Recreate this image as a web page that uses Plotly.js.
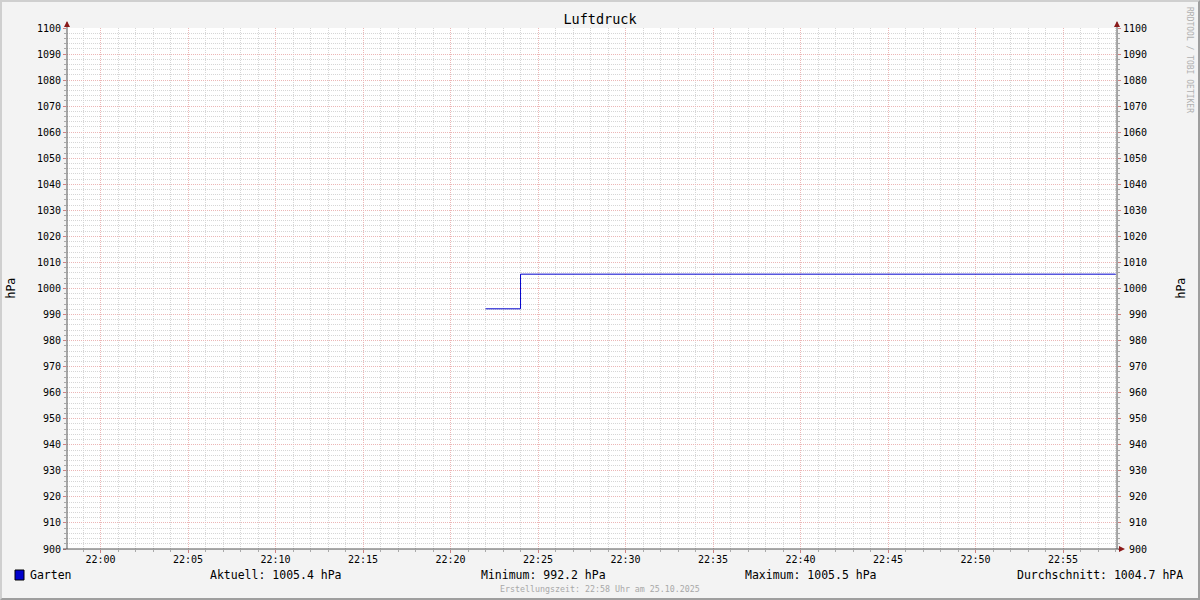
<!DOCTYPE html>
<html><head><meta charset="utf-8">
<script src="https://cdn.plot.ly/plotly-3.0.1.min.js"></script>
<style>
html,body{margin:0;padding:0;background:#f3f3f3;}
#wrap{position:relative;width:1200px;height:600px;}
#chart{width:1200px;height:600px;}
#frame{position:absolute;left:0;top:0;width:1200px;height:600px;box-sizing:border-box;
border-top:2px solid #cfcfcf;border-left:2px solid #cfcfcf;border-right:2px solid #9e9e9e;border-bottom:2px solid #9e9e9e;pointer-events:none;}
</style></head>
<body><div id="wrap"><div id="chart"></div><div id="frame"></div></div>
<script>
// Data
const times = ["2025-10-25 22:22:00", "2025-10-25 22:24:00", "2025-10-25 22:58:00"];
const druck = [992.2, 1005.5, 1005.4];
const seriesName = "Garten";
const stats = {aktuell: "1005.4", minimum: "992.2", maximum: "1005.5", durchschnitt: "1004.7"};
const xRange = ["2025-10-25 21:58:05", "2025-10-25 22:58:05"];
const yRange = [900, 1100];
const yTicks = [900, 910, 920, 930, 940, 950, 960, 970, 980, 990, 1000, 1010, 1020, 1030, 1040, 1050, 1060, 1070, 1080, 1090, 1100];

const mono = "DejaVu Sans Mono";
const W = 1050, H = 521;
const px = v => v / W, py = v => v / H;

const trace = {
  x: times, y: druck, type: "scatter", mode: "lines",
  line: {color: "#0000cc", width: 1, shape: "hv"},
  name: seriesName, hoverinfo: "skip"
};
const trace2 = {x: times, y: druck, type: "scatter", mode: "lines", yaxis: "y2",
  line: {color: "rgba(0,0,0,0)", width: 0}, hoverinfo: "skip", showlegend: false};

const gridMaj = "#ecb6b6";
const gridMin = "#d6d6d6";

const layout = {
  width: 1200, height: 600,
  margin: {l: 67, r: 83, t: 28, b: 51},
  paper_bgcolor: "#f3f3f3", plot_bgcolor: "#ffffff",
  showlegend: false,
  font: {family: mono, size: 10, color: "#000"},
  title: {text: "Luftdruck", font: {family: mono, size: 13.5, color: "#000"},
    x: 0.5, xanchor: "center", y: 1 - 19/600, yanchor: "middle", yref: "container"},
  xaxis: {
    type: "date", range: xRange, tickformat: "%H:%M",
    tick0: "2025-10-25 22:00:00", dtick: 300000,
    showgrid: true, gridcolor: gridMaj, griddash: "1px,1px", gridwidth: 1,
    ticks: "outside", ticklen: 3, tickcolor: "#d08080", showline: false, zeroline: false,
    ticklabelstandoff: -2,
    tickfont: {family: mono, size: 10, color: "#000"},
    minor: {dtick: 60000, showgrid: true, gridcolor: gridMin, griddash: "1px,1px", ticks: "outside", ticklen: 2, tickcolor: "#aaa"},
    fixedrange: true
  },
  yaxis: {
    range: yRange, dtick: 10, tick0: 900,
    showgrid: true, gridcolor: gridMaj, griddash: "1px,1px",
    ticks: "outside", ticklen: 3, tickcolor: "#d08080", showline: false, zeroline: false,
    tickfont: {family: mono, size: 10, color: "#000"},
    minor: {dtick: 2, showgrid: true, gridcolor: gridMin, griddash: "1px,1px", ticks: "outside", ticklen: 2, tickcolor: "#aaa"},
    fixedrange: true
  },
  yaxis2: {
    range: yRange, tickmode: "array", tickvals: yTicks,
    ticktext: yTicks.map(v => String(v).padStart(4, "\u00a0")),
    overlaying: "y", side: "right",
    showgrid: false, ticks: "outside", ticklen: 3, tickcolor: "#d08080", zeroline: false, showline: false,
    tickfont: {family: mono, size: 10, color: "#000"},
    minor: {dtick: 2, tick0: 900, showgrid: false, ticks: "outside", ticklen: 2, tickcolor: "#aaa"},
    fixedrange: true
  },
  shapes: [
    // axis lines
    {type: "line", xref: "paper", yref: "paper", x0: 0, x1: 0, y0: 0, y1: 1 + py(6), line: {color: "#555", width: 1}, layer: "above"},
    {type: "line", xref: "paper", yref: "paper", x0: 1, x1: 1, y0: 0, y1: 1 + py(6), line: {color: "#555", width: 1}, layer: "above"},
    {type: "line", xref: "paper", yref: "paper", x0: -px(4), x1: 1 + px(3), y0: 0, y1: 0, line: {color: "#555", width: 1}, layer: "above"},
    // arrows
    {type: "path", xref: "paper", yref: "paper", xsizemode: "pixel", ysizemode: "pixel", xanchor: 0, yanchor: 1,
      path: "M -3,1 L 3,1 L 0,7 Z", fillcolor: "#8b1a1a", line: {width: 0}, layer: "above"},
    {type: "path", xref: "paper", yref: "paper", xsizemode: "pixel", ysizemode: "pixel", xanchor: 1, yanchor: 1,
      path: "M -3,1 L 3,1 L 0,7 Z", fillcolor: "#8b1a1a", line: {width: 0}, layer: "above"},
    {type: "path", xref: "paper", yref: "paper", xsizemode: "pixel", ysizemode: "pixel", xanchor: 1, yanchor: 0,
      path: "M 2,3 L 2,-3 L 8,0 Z", fillcolor: "#8b1a1a", line: {width: 0}, layer: "above"},
    // legend swatch
    {type: "rect", xref: "paper", yref: "paper", xsizemode: "pixel", ysizemode: "pixel", xanchor: 0, yanchor: 0,
      x0: 15 - 67, x1: 24 - 67, y0: -(570 - 549), y1: -(580 - 549), fillcolor: "#0000cc", line: {color: "#000", width: 1}}
  ],
  annotations: [
    {text: "hPa", xref: "paper", yref: "paper", x: px(10 - 67), y: 0.5, textangle: -90, showarrow: false,
      xanchor: "center", yanchor: "middle", font: {family: mono, size: 11.5}},
    {text: "hPa", xref: "paper", yref: "paper", x: px(1180 - 67), y: 0.5, textangle: -90, showarrow: false,
      xanchor: "center", yanchor: "middle", font: {family: mono, size: 11.5}},
    {text: "RRDTOOL / TOBI OETIKER", xref: "paper", yref: "paper", x: px(1190 - 67), y: py(549 - 60), textangle: 90, showarrow: false,
      xanchor: "center", yanchor: "middle", font: {family: mono, size: 8, color: "#b0b0b0"}},
    {text: seriesName, xref: "paper", yref: "paper", x: px(28 - 67), y: py(549 - 575), showarrow: false,
      xanchor: "left", yanchor: "middle", font: {family: mono, size: 11.5}},
    {text: "Aktuell: " + stats.aktuell + " hPa", xref: "paper", yref: "paper", x: px(208 - 67), y: py(549 - 575), showarrow: false,
      xanchor: "left", yanchor: "middle", font: {family: mono, size: 11.5}},
    {text: "Minimum: " + stats.minimum + " hPa", xref: "paper", yref: "paper", x: px(479 - 67), y: py(549 - 575), showarrow: false,
      xanchor: "left", yanchor: "middle", font: {family: mono, size: 11.5}},
    {text: "Maximum: " + stats.maximum + " hPa", xref: "paper", yref: "paper", x: px(743 - 67), y: py(549 - 575), showarrow: false,
      xanchor: "left", yanchor: "middle", font: {family: mono, size: 11.5}},
    {text: "Durchschnitt: " + stats.durchschnitt + " hPA", xref: "paper", yref: "paper", x: px(1185 - 67), y: py(549 - 575), showarrow: false,
      xanchor: "right", yanchor: "middle", font: {family: mono, size: 11.5}},
    {text: "Erstellungszeit: 22:58 Uhr am 25.10.2025", xref: "paper", yref: "paper", x: px(600 - 67), y: py(549 - 589), showarrow: false,
      xanchor: "center", yanchor: "middle", font: {family: mono, size: 8.3, color: "#a8a8a8"}}
  ]
};

Plotly.newPlot("chart", [trace, trace2], layout, {staticPlot: true, displayModeBar: false});
</script></body></html>
